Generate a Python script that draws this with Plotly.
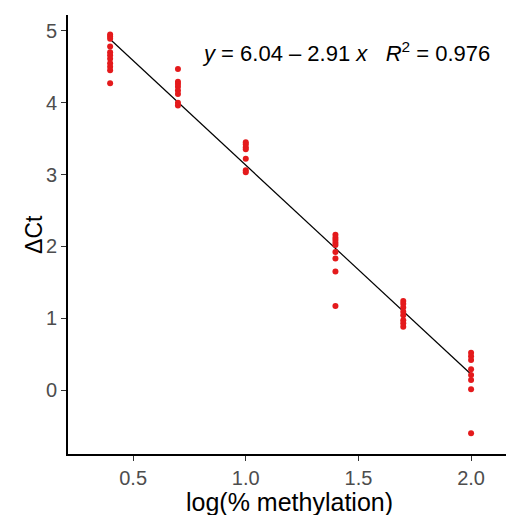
import numpy as np
import plotly.graph_objects as go

# log10 of % methylation for each standard, and measured delta-Ct replicates
log_meth = [0.398, 0.699, 1.0, 1.398, 1.699, 2.0]
delta_ct = [
    [4.95, 4.92, 4.89, 4.78, 4.70, 4.66, 4.61, 4.55, 4.50, 4.45, 4.27],
    [4.47, 4.29, 4.26, 4.22, 4.17, 4.12, 4.00, 3.96],
    [3.45, 3.42, 3.38, 3.35, 3.22, 3.06, 3.03],
    [2.16, 2.12, 2.09, 2.05, 2.02, 1.92, 1.83, 1.65, 1.17],
    [1.24, 1.20, 1.15, 1.09, 1.04, 0.97, 0.93, 0.88],
    [0.52, 0.47, 0.42, 0.29, 0.21, 0.14, 0.01, -0.60],
]

# fitted regression coefficients
intercept = 6.04
slope = -2.91
r_squared = 0.976

xs = [x for x, ys in zip(log_meth, delta_ct) for _ in ys]
ys = [y for grp in delta_ct for y in grp]

line_x = [min(log_meth), max(log_meth)]
line_y = [intercept + slope * v for v in line_x]

FONT = "Liberation Sans, Arial"

fig = go.Figure()
fig.add_trace(go.Scatter(
    x=line_x, y=line_y, mode="lines",
    line=dict(color="black", width=1.2), showlegend=False, hoverinfo="skip",
))
fig.add_trace(go.Scatter(
    x=xs, y=ys, mode="markers",
    marker=dict(color="#E41A1C", size=6, line=dict(width=0)),
    showlegend=False,
))

# regression equation
fig.add_annotation(
    x=1.445, y=4.70, xref="x", yref="y", showarrow=False,
    text=f"<i>y</i> = {intercept:.2f} \u2013 {abs(slope):.2f} <i>x</i>   <i>R</i><sup>2</sup> = {r_squared:.3f}",
    font=dict(family=FONT, size=22, color="black"),
)

# axis titles placed as paper-anchored annotations
fig.add_annotation(
    x=0.505, y=-0.073, xref="paper", yref="paper", showarrow=False,
    xanchor="center", yanchor="top",
    text="log(% methylation)", font=dict(family=FONT, size=25, color="black"),
)
fig.add_annotation(
    x=-0.079, y=0.5, xref="paper", yref="paper", showarrow=False,
    xanchor="center", yanchor="middle", textangle=-90,
    text="\u0394Ct", font=dict(family=FONT, size=23, color="black"),
)

axis_common = dict(
    showgrid=False, zeroline=False, automargin=False,
    showline=True, linecolor="black", linewidth=2,
    ticks="outside", ticklen=5, tickwidth=1.2, tickcolor="#333333",
    tickfont=dict(family=FONT, size=20, color="#4D4D4D"),
)

fig.update_layout(
    width=506, height=515,
    margin=dict(l=68, r=0, t=15, b=61),
    paper_bgcolor="white", plot_bgcolor="white",
    xaxis=dict(
        **axis_common, range=[0.211, 2.155],
        tickvals=[0.5, 1.0, 1.5, 2.0], ticktext=["0.5", "1.0", "1.5", "2.0"],
    ),
    yaxis=dict(
        **axis_common, range=[-0.89, 5.22],
        tickvals=[0, 1, 2, 3, 4, 5],
    ),
)

fig.write_html("out.html")
